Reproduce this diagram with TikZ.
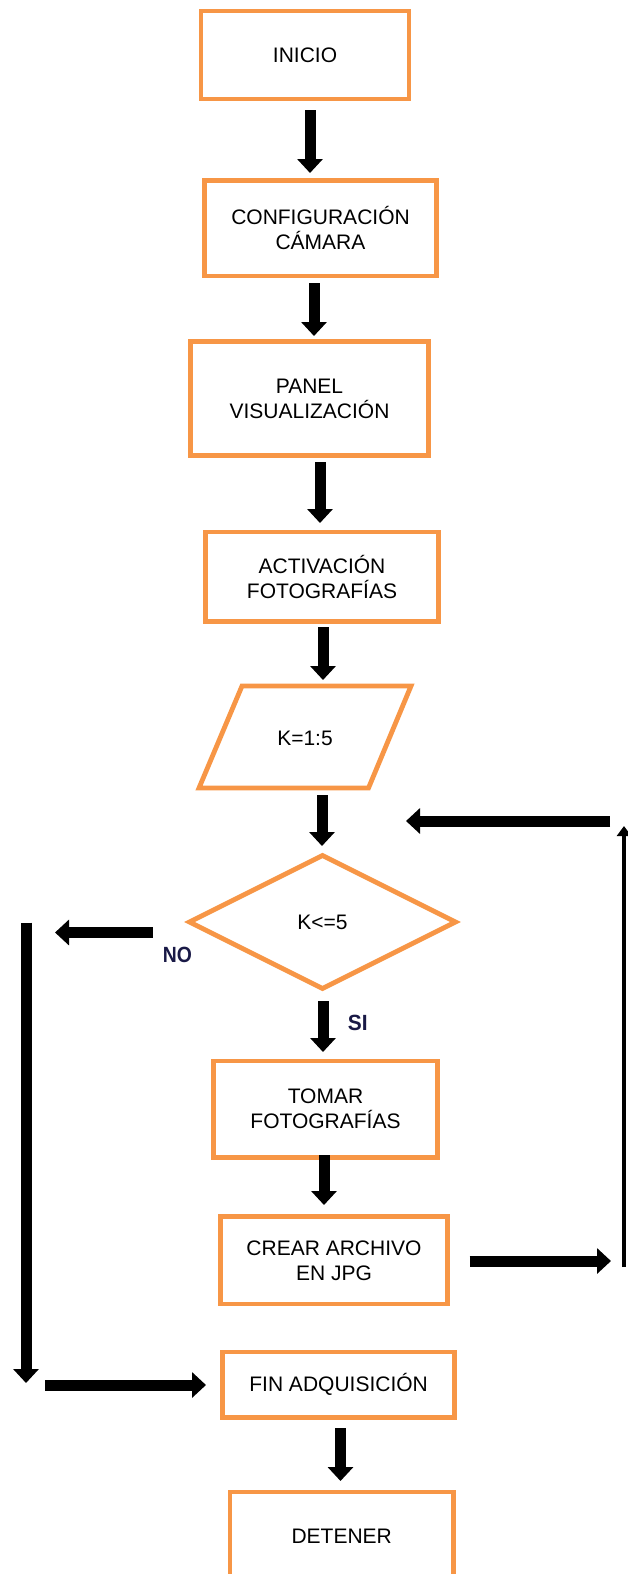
\documentclass[tikz,border=0pt]{standalone}
\usepackage{fontspec}
\setmainfont{Liberation Sans}
\usetikzlibrary{arrows.meta,shapes.geometric}
\definecolor{boxorange}{HTML}{F79646}
\definecolor{labelink}{RGB}{25,25,70}
\begin{document}
\begin{tikzpicture}[x=1pt,y=-1pt,
  stepbox/.style={draw=boxorange, line width=4.8pt, rectangle, inner sep=0pt,
    align=center, font=\fontsize{21}{25}\selectfont},
  plain/.style={inner sep=0pt, align=center, font=\fontsize{21}{25}\selectfont},
  flow/.style={line width=11pt, -{Triangle[width=25pt,length=14pt]}},
  thinflow/.style={line width=4pt, -{Triangle[width=14pt,length=10pt]}},
  answer/.style={inner sep=0pt, text=labelink,
    font=\fontsize{22}{22}\selectfont\bfseries}]
\useasboundingbox (0,0) rectangle (628,1574);
\clip (0,0) rectangle (628,1574);

% process boxes
\node[stepbox, minimum width=208pt, minimum height=88pt] (inicio) at (305,55) {INICIO};
\node[stepbox, minimum width=231.7pt, minimum height=95.3pt] (config) at (320.5,228.4) {CONFIGURACIÓN\\CÁMARA};
\node[stepbox, minimum width=237.8pt, minimum height=114.4pt] (panel) at (309.5,398.5) {PANEL\\VISUALIZACIÓN};
\node[stepbox, minimum width=232.7pt, minimum height=89.4pt] (activ) at (322,576.7) {ACTIVACIÓN\\FOTOGRAFÍAS};

% input: loop counter
\draw[boxorange, line width=4.8pt, line join=miter] (242,686) -- (411,686) -- (368.5,788) -- (199,788) -- cycle;
\node[plain] (kset) at (305,738) {K=1:5};

% decision
\node[draw=boxorange, line width=4.8pt, diamond, minimum width=268pt, minimum height=135pt,
  inner sep=0pt, font=\fontsize{21}{25}\selectfont] (cond) at (322.5,922) {K<=5};

\node[stepbox, minimum width=223.7pt, minimum height=96.4pt] (tomar) at (325.5,1109.2) {TOMAR\\FOTOGRAFÍAS};
\node[stepbox, minimum width=226.7pt, minimum height=87.4pt] (crear) at (334,1260.3) {CREAR ARCHIVO\\EN JPG};
\node[stepbox, minimum width=231.8pt, minimum height=65.4pt] (fin) at (338.6,1384.7) {FIN ADQUISICIÓN};
\node[stepbox, minimum width=223.5pt, minimum height=88pt] (detener) at (341.7,1536) {DETENER};

% branch labels
\node[answer] (no) at (177.5,955.3) {\scalebox{0.88}[1]{NO}};
\node[answer] (si) at (357.8,1023) {\scalebox{0.95}[1]{SI}};

% arrow end points
\coordinate (a1s) at (310,110);    \coordinate (a1e) at (310,173);
\coordinate (a2s) at (314,283);    \coordinate (a2e) at (314,336);
\coordinate (a3s) at (320,462);    \coordinate (a3e) at (320,523);
\coordinate (a4s) at (323,627);    \coordinate (a4e) at (323,680);
\coordinate (a5s) at (322,795);    \coordinate (a5e) at (322,846);
\coordinate (nos) at (152.5,932.5); \coordinate (noe) at (55,932.5);
\coordinate (ls) at (26,922.5);    \coordinate (le) at (26,1383);
\coordinate (bls) at (45,1385);    \coordinate (ble) at (206,1385);
\coordinate (sis) at (323,1001);   \coordinate (sie) at (323,1052);
\coordinate (a7s) at (324,1155);   \coordinate (a7e) at (324,1205);
\coordinate (rs) at (469.5,1261);  \coordinate (re) at (611,1261);
\coordinate (rvs) at (624,1267);   \coordinate (rve) at (624,826);
\coordinate (trs) at (610,821);    \coordinate (tre) at (406,821);
\coordinate (a8s) at (340.5,1428); \coordinate (a8e) at (340.5,1481);

% connectors
\draw[flow] (a1s) -- (a1e);
\draw[flow] (a2s) -- (a2e);
\draw[flow] (a3s) -- (a3e);
\draw[flow] (a4s) -- (a4e);
\draw[flow] (a5s) -- (a5e);
\draw[flow] (nos) -- (noe);
\draw[flow] (ls) -- (le);
\draw[flow] (bls) -- (ble);
\draw[flow] (sis) -- (sie);
\draw[flow] (a7s) -- (a7e);
\draw[flow] (rs) -- (re);
\draw[thinflow] (rvs) -- (rve);
\draw[flow] (trs) -- (tre);
\draw[flow] (a8s) -- (a8e);
\end{tikzpicture}
\end{document}
